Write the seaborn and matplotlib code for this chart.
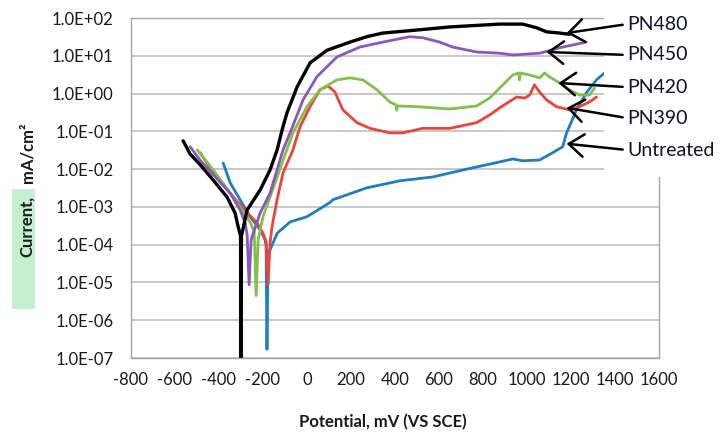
import matplotlib
matplotlib.use("Agg")
import matplotlib.pyplot as plt
from matplotlib.patches import Rectangle
from matplotlib.ticker import FixedLocator, FuncFormatter, NullLocator
import pandas as pd
import seaborn as sns

# potential (mV vs SCE) and current density (mA/cm2)
untreated_mv = [-381, -349, -304, -259, -213, -191, -186, -182, -177, -168, -136, -77, 0, 104,
                118, 272, 422, 572, 726, 876, 935, 980, 1057, 1116, 1162, 1180, 1225, 1270, 1316, 1352]
untreated_i = [0.0145, 4.3e-3, 1.55e-3, 5.5e-4, 2.5e-4, 1.35e-4, 1.0e-4, 1.7e-7, 6.5e-5, 7.2e-5, 2.0e-4, 4.0e-4, 5.5e-4, 1.3e-3,
               1.55e-3, 3.2e-3, 4.9e-3, 6.2e-3, 0.010, 0.0155, 0.0186, 0.0166, 0.0174, 0.027, 0.039, 0.091, 0.37, 1.05, 2.3, 3.5]

pn390_mv = [-485, -426, -349, -272, -227, -200, -186, -177, -168, -159, -136, -109, -64, -32, 14, 59, 95, 127,
            163, 227, 286, 376, 435, 526, 649, 771, 830, 876, 953, 989, 1012, 1034, 1057, 1089, 1134, 1193, 1239, 1284, 1316]
pn390_i = [0.027, 7.9e-3, 2.3e-3, 6.9e-4, 3.8e-4, 2.0e-4, 1.2e-4, 8.7e-6, 1.1e-4, 3.0e-4, 1.55e-3, 7.9e-3, 0.032, 0.13, 0.45, 1.26, 1.6, 1.1,
           0.37, 0.17, 0.12, 0.091, 0.091, 0.12, 0.12, 0.17, 0.27, 0.42, 0.81, 0.76, 0.91, 1.7, 1.1, 0.68, 0.45, 0.37, 0.45, 0.60, 0.81]

pn420_mv = [-499, -426, -349, -290, -259, -240, -231, -222, -200, -168, -109, -64, 0, 59, 136, 195, 254, 318, 376,
            405, 408, 411, 499, 649, 771, 830, 876, 935, 962, 966, 970, 1012, 1057, 1080, 1103, 1148, 1193, 1239, 1284, 1307]
pn420_i = [0.032, 9.5e-3, 2.3e-3, 7.4e-4, 4.0e-4, 2.2e-4, 4.5e-6, 1.35e-4, 5.5e-4, 1.8e-3, 0.017, 0.091, 0.45, 1.26, 2.3, 2.6, 2.3, 1.26, 0.60,
           0.50, 0.36, 0.47, 0.45, 0.39, 0.47, 0.76, 1.4, 3.1, 3.5, 2.3, 3.5, 3.1, 2.6, 3.5, 2.75, 1.9, 1.26, 0.91, 0.91, 1.4]

pn450_mv = [-531, -485, -426, -349, -304, -281, -272, -263, -254, -213, -168, -109, -77, -18, 45, 136, 240, 345,
            467, 526, 603, 662, 771, 876, 935, 1057, 1162, 1270]
pn450_i = [0.039, 0.017, 7.1e-3, 2.3e-3, 8.3e-4, 3.8e-4, 1.8e-4, 8.7e-6, 1.35e-4, 6.9e-4, 2.3e-3, 0.032, 0.091, 0.68, 2.8, 9.3, 17, 23,
           32, 30, 23, 17, 12.6, 11.7, 10.5, 11.7, 17, 23]

pn480_mv = [-563, -531, -485, -426, -363, -327, -313, -302, -300, -298, -272, -213, -168, -136, -113, -91, -45, 14, 91,
            195, 272, 345, 499, 649, 876, 980, 1044, 1089, 1148, 1193]
pn480_i = [0.056, 0.025, 0.013, 5.1e-3, 1.8e-3, 6.9e-4, 3.0e-4, 1.7e-4, 8e-8, 1.7e-4, 8.3e-4, 2.8e-3, 9.5e-3, 0.032, 0.11, 0.31, 1.5, 6.5, 14,
           23, 32, 40, 48, 58, 69, 69, 55, 43, 40, 37]

names = ["Untreated", "PN390", "PN420", "PN450", "PN480"]
colors = ["#1f7dc6", "#e8453c", "#7fc247", "#8a58bd", "#000000"]
widths = [2.0, 2.0, 2.0, 2.0, 2.4]

# where each label sits and where its arrow points (mV, mA/cm2)
label_pos = [(1456, 0.032), (1456, 0.224), (1456, 1.48), (1456, 10.5), (1456, 69)]
arrow_tip = [(1180, 0.047), (1180, 0.42), (1143, 1.9), (1089, 12.6), (1180, 40)]

frames = []
for name, mv, cur in zip(names,
                         [untreated_mv, pn390_mv, pn420_mv, pn450_mv, pn480_mv],
                         [untreated_i, pn390_i, pn420_i, pn450_i, pn480_i]):
    frames.append(pd.DataFrame({"Potential": mv, "Current": cur, "Sample": name}))
df = pd.concat(frames, ignore_index=True)

sns.set_style("white")
plt.rcParams["font.family"] = ["Lato", "DejaVu Sans"]
plt.rcParams["axes.unicode_minus"] = False

fig = plt.figure(figsize=(7.26, 4.37), dpi=100)
ax = fig.add_axes([131 / 726, 1 - 358 / 437, 528 / 726, 340 / 437])

for name, c, w in zip(names, colors, widths):
    sub = df[df["Sample"] == name]
    sns.lineplot(data=sub, x="Potential", y="Current", color=c, lw=w,
                 sort=False, estimator=None, ax=ax)

ax.set_yscale("log")
ax.set_ylim(1e-7, 1e2)
ax.set_xlim(-800, 1600)
ax.yaxis.set_major_locator(FixedLocator([10.0 ** k for k in range(-7, 3)]))
ax.yaxis.set_minor_locator(NullLocator())
ax.yaxis.set_major_formatter(FuncFormatter(lambda v, _: "%.1E" % v))
ax.set_xticks(range(-800, 1601, 200))
ax.xaxis.set_major_formatter(FuncFormatter(lambda v, _: "%d" % v))

ax.yaxis.grid(True, color="#c0c0c0", lw=1.2)
ax.set_axisbelow(True)
for s in ax.spines.values():
    s.set_color("#a6a6a6")
    s.set_linewidth(1.0)
ax.tick_params(axis="both", direction="out", length=4.3, width=1.0, color="#a6a6a6",
               labelsize=12, labelcolor="#1a1a1a")
ax.tick_params(axis="y", pad=8.5)
ax.tick_params(axis="x", pad=6.0)

ax.set_ylabel("")
ax.set_xlabel("Potential, mV (VS SCE)", fontsize=12, fontweight="bold", color="#1a1a1a")
ax.xaxis.label.set_va("center")
ax.xaxis.set_label_coords(0.477, -0.188)

# white text-box area on the right that hides the grid
ax.add_patch(Rectangle((0.896, 0.532), 0.4, 0.6, transform=ax.transAxes,
                       facecolor="white", edgecolor="none", clip_on=False, zorder=3))

for name, pos, tip in zip(names, label_pos, arrow_tip):
    ax.annotate(name, xy=tip, xytext=pos, fontsize=14, color="#101030",
                ha="left", va="center", zorder=4, annotation_clip=False,
                arrowprops=dict(arrowstyle="->, head_length=0.6, head_width=0.45",
                                mutation_scale=18, color="black", lw=1.8,
                                relpos=(0, 0.5), shrinkA=1, shrinkB=0))

# y label with the green highlight behind "Current,"
fig.patches.append(Rectangle((12 / 726, 1 - 309 / 437), 23 / 726, 120 / 437,
                             transform=fig.transFigure, facecolor="#c6efce", edgecolor="none"))
fig.text(27 / 726, 1 - 226 / 437, "Current,", rotation=90, ha="center", va="center",
         fontsize=12, fontweight="bold", color="#1a1a1a")
fig.text(27 / 726, 1 - 153 / 437, "mA/cm²", rotation=90, ha="center", va="center",
         fontsize=12, fontweight="bold", color="#1a1a1a")

fig.savefig("out.png", dpi=100)
